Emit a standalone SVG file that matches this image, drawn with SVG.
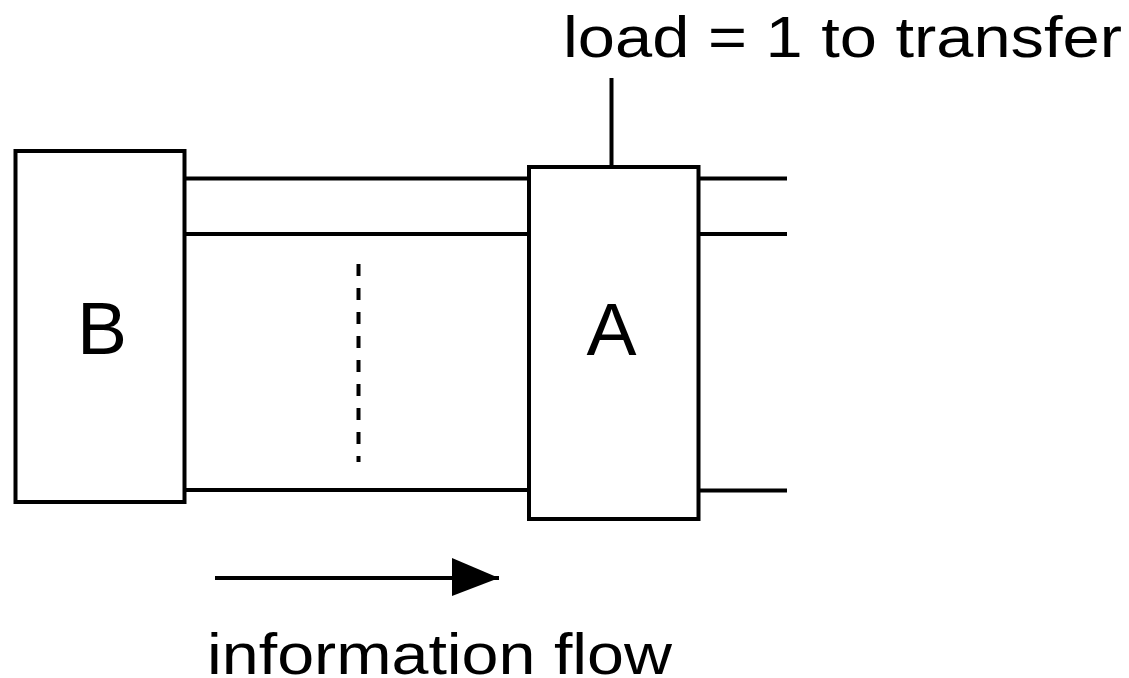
<svg xmlns="http://www.w3.org/2000/svg" width="1129" height="678" viewBox="0 0 1129 678">
<defs>
<style>
.box{fill:#fff;stroke:#000;stroke-width:4}
.ln{stroke:#000;stroke-width:4;fill:none}
.t{font-family:"Liberation Sans",Arial,sans-serif;fill:#000}
</style>
<marker id="ah" markerUnits="userSpaceOnUse" markerWidth="48" markerHeight="40" refX="47" refY="20" orient="auto">
<path d="M0,0 L47,20 L0,38 Z" fill="#000"/>
</marker>
</defs>
<rect width="1129" height="678" fill="#fff"/>
<g id="connectors">
<line class="ln" x1="184.5" y1="178.5" x2="529" y2="178.5"/>
<line class="ln" x1="184.5" y1="234" x2="529" y2="234"/>
<line class="ln" x1="184.5" y1="490" x2="529" y2="490"/>
<line class="ln" x1="698.5" y1="178.5" x2="787" y2="178.5"/>
<line class="ln" x1="698.5" y1="234" x2="787" y2="234"/>
<line class="ln" x1="698.5" y1="490.5" x2="787" y2="490.5"/>
<line class="ln" x1="611.5" y1="78" x2="611.5" y2="167"/>
<line class="ln" x1="358.5" y1="264" x2="358.5" y2="462" stroke-dasharray="12 12"/>
<line class="ln" x1="215" y1="578" x2="499" y2="578" marker-end="url(#ah)"/>
</g>
<g id="nodeB">
<rect class="box" x="15.5" y="151" width="169" height="351"/>
<text class="t" x="102" y="354" font-size="75" text-anchor="middle">B</text>
</g>
<g id="nodeA">
<rect class="box" x="529" y="167" width="169.5" height="352"/>
<text class="t" x="611.5" y="354.5" font-size="75" text-anchor="middle">A</text>
</g>
<g id="labels">
<text class="t" x="563" y="57" font-size="57" textLength="559" lengthAdjust="spacingAndGlyphs">load = 1 to transfer</text>
<text class="t" x="207" y="674" font-size="57" textLength="465" lengthAdjust="spacingAndGlyphs">information flow</text>
</g>
</svg>
